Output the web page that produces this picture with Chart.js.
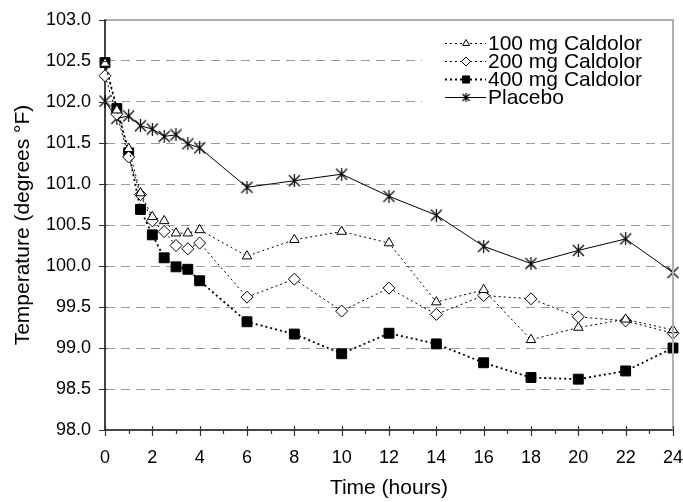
<!DOCTYPE html>
<html>
<head>
<meta charset="utf-8">
<script src="https://cdn.jsdelivr.net/npm/chart.js@4/dist/chart.umd.min.js"></script>
<style>
  html, body { margin: 0; padding: 0; background: #fff; }
  #wrap { width: 683px; height: 502px; }
</style>
</head>
<body>
<div id="wrap"><canvas id="chart" width="683" height="502"></canvas></div>
<script>
'use strict';

//#region Data

const hours = [0, 0.5, 1, 1.5, 2, 2.5, 3, 3.5, 4, 6, 8, 10, 12, 14, 16, 18, 20, 22, 24];

const mg100 = [102.47, 101.90, 101.43, 100.89, 100.60, 100.55, 100.40, 100.40, 100.44, 100.12,
  100.32, 100.42, 100.28, 99.56, 99.71, 99.10, 99.25, 99.35, 99.22];
const mg200 = [102.32, 101.85, 101.33, 100.87, 100.55, 100.42, 100.25, 100.21, 100.28, 99.62,
  99.84, 99.45, 99.73, 99.41, 99.64, 99.60, 99.38, 99.33, 99.18];
const mg400 = [102.48, 101.92, 101.38, 100.69, 100.38, 100.10, 99.99, 99.96, 99.82, 99.32,
  99.17, 98.93, 99.18, 99.05, 98.82, 98.64, 98.62, 98.72, 99.00];
const placebo = [102.01, 101.80, 101.83, 101.71, 101.67, 101.58, 101.60, 101.49, 101.44, 100.96,
  101.04, 101.12, 100.85, 100.62, 100.24, 100.03, 100.19, 100.33, 99.92];

const seriesNames = ['100 mg Caldolor', '200 mg Caldolor', '400 mg Caldolor', 'Placebo'];

const yMin = 98;
const yMax = 103;
const yStep = 0.5;
const xMin = 0;
const xMax = 24;

//#endregion

const FONT = 'Liberation Sans, Arial, sans-serif';
const NONE = 'rgba(0,0,0,0)';

// excel style star marker: an X with a vertical bar
function makeStar(size) {
  const c = document.createElement('canvas');
  c.width = size;
  c.height = size;
  const g = c.getContext('2d');
  g.strokeStyle = '#000';
  g.lineWidth = 1.2;
  g.beginPath();
  g.moveTo(1, 1); g.lineTo(size - 1, size - 1);
  g.moveTo(size - 1, 1); g.lineTo(1, size - 1);
  g.moveTo(size / 2, 0); g.lineTo(size / 2, size);
  g.stroke();
  return c;
}

const starBig = makeStar(13);
const starSmall = makeStar(9);

function toPoints(values) {
  return values.map((v, i) => ({x: hours[i], y: v}));
}

const styles = [
  {pointStyle: 'triangle', radius: 5.5, bg: '#fff', dash: [2, 3], width: 1, legendRadius: 4},
  {pointStyle: 'rectRot', radius: 6, bg: '#fff', dash: [2, 3], width: 1, legendRadius: 4.5},
  {pointStyle: 'rect', radius: 7, bg: '#000', dash: [2, 3], width: 1.8, legendRadius: 5},
  {pointStyle: starBig, radius: 6, bg: '#000', dash: [], width: 1, legendStyle: starSmall, legendRadius: 4}
];

const datasetValues = [mg100, mg200, mg400, placebo];

const datasets = datasetValues.map((vals, i) => ({
  label: seriesNames[i],
  data: toPoints(vals),
  borderColor: '#000',
  borderWidth: styles[i].width,
  borderDash: styles[i].dash,
  pointStyle: styles[i].pointStyle,
  pointRadius: styles[i].radius,
  pointBackgroundColor: styles[i].bg,
  pointBorderColor: '#000',
  pointBorderWidth: 1,
  tension: 0,
  clip: false
}));

// frame, tick marks and the legend box
const decorPlugin = {
  id: 'decor',
  afterDraw(chart) {
    const ctx = chart.ctx;
    const area = chart.chartArea;
    const xs = chart.scales.x;
    const ys = chart.scales.y;
    ctx.save();

    // light frame on top and right
    ctx.strokeStyle = '#b0b0b0';
    ctx.lineWidth = 2;
    ctx.beginPath();
    ctx.moveTo(area.left, area.top);
    ctx.lineTo(area.right, area.top);
    ctx.lineTo(area.right, area.bottom);
    ctx.stroke();

    // tick marks
    ctx.strokeStyle = '#333';
    ctx.lineWidth = 1.2;
    ctx.beginPath();
    for (let h = xMin; h <= xMax; h++) {
      const px = Math.round(xs.getPixelForValue(h)) + 0.5;
      if (h % 2 === 0) {
        ctx.moveTo(px, area.bottom - 4);
        ctx.lineTo(px, area.bottom + 6);
      } else {
        ctx.moveTo(px, area.bottom);
        ctx.lineTo(px, area.bottom + 4);
      }
    }
    for (let v = yMin; v <= yMax + 0.001; v += yStep) {
      const py = Math.round(ys.getPixelForValue(v)) + 0.5;
      ctx.moveTo(area.left - 6, py);
      ctx.lineTo(area.left + 2, py);
    }
    ctx.stroke();

    // legend
    const boxLeft = 422;
    ctx.fillStyle = '#fff';
    ctx.fillRect(boxLeft, area.top + 1, area.right - boxLeft - 1, 100);

    const rowY = [43, 61, 79, 97];
    const lineX1 = 445;
    const lineX2 = 486;
    const markX = 466;
    ctx.font = '21px ' + FONT;
    ctx.textBaseline = 'middle';
    ctx.textAlign = 'left';
    chart.data.datasets.forEach((ds, i) => {
      const st = styles[i];
      const y = rowY[i];
      ctx.save();
      ctx.strokeStyle = '#000';
      ctx.lineWidth = st.width;
      ctx.setLineDash(st.dash);
      ctx.beginPath();
      ctx.moveTo(lineX1, y + 0.5);
      ctx.lineTo(lineX2, y + 0.5);
      ctx.stroke();
      ctx.restore();

      ctx.save();
      ctx.fillStyle = st.bg;
      ctx.strokeStyle = '#000';
      ctx.lineWidth = 1;
      Chart.helpers.drawPoint(ctx, {
        pointStyle: st.legendStyle || st.pointStyle,
        rotation: 0,
        radius: st.legendRadius,
        borderWidth: 1
      }, markX, y + 0.5);
      ctx.restore();

      ctx.fillStyle = '#000';
      ctx.fillText(ds.label, 488, y + 1);
    });

    ctx.restore();
  }
};

const chartElem = document.getElementById('chart');
const context = chartElem.getContext('2d');

// eslint-disable-next-line no-unused-vars
const chart = new Chart(context, {
  type: 'line',
  data: {datasets: datasets},
  options: {
    responsive: false,
    animation: false,
    events: [],
    layout: {padding: {top: 20, right: 10, left: 0, bottom: 0}},
    plugins: {
      legend: {display: false},
      tooltip: {enabled: false}
    },
    scales: {
      x: {
        type: 'linear',
        min: xMin,
        max: xMax,
        afterFit(scale) { scale.height = 72; },
        ticks: {
          stepSize: 2,
          padding: 0,
          maxRotation: 0,
          autoSkip: false,
          color: '#000',
          font: {family: FONT, size: 18}
        },
        grid: {display: true, drawOnChartArea: false, drawTicks: true, tickLength: 17, tickColor: NONE, color: NONE},
        border: {display: true, color: '#444', width: 2},
        title: {
          display: true,
          text: 'Time (hours)',
          color: '#000',
          font: {family: FONT, size: 21},
          padding: {top: 0, bottom: 1}
        }
      },
      y: {
        min: yMin,
        max: yMax,
        afterFit(scale) { scale.width = 105; },
        ticks: {
          stepSize: yStep,
          padding: 0,
          color: '#000',
          font: {family: FONT, size: 18},
          callback: v => v.toFixed(1)
        },
        grid: {
          drawTicks: true,
          tickLength: 14,
          tickColor: NONE,
          lineWidth: 1,
          color: c => (c.tick && (c.tick.value === yMin || c.tick.value === yMax)) ? NONE : '#9a9a9a'
        },
        border: {display: true, color: '#444', width: 2, dash: [9, 6]},
        title: {
          display: true,
          text: 'Temperature (degrees °F)',
          color: '#000',
          font: {family: FONT, size: 21},
          padding: {top: 11, bottom: 0}
        }
      }
    }
  },
  plugins: [decorPlugin]
});
</script>
</body>
</html>
